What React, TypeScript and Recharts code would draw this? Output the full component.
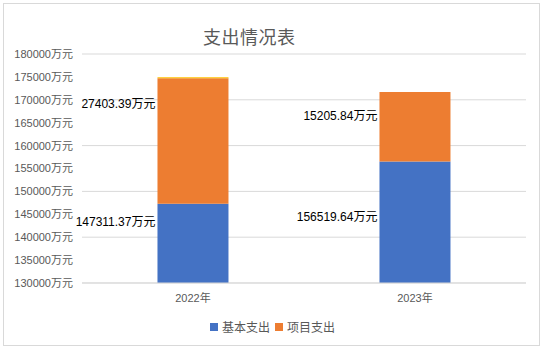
import { BarChart, Bar, XAxis, YAxis, CartesianGrid, LabelList } from "recharts";

const years = ["2022年", "2023年"];
const basic = [147311.37, 156519.64];
const project = [27403.39, 15205.84];
const other = [230, 0];
const yTicks = [130000, 135000, 140000, 145000, 150000, 155000, 160000, 165000, 170000, 175000, 180000];

const data = years.map((y, i) => ({ year: y, basic: basic[i], project: project[i], other: other[i] }));

const font = "'Liberation Sans', 'Noto Sans CJK SC', sans-serif";
const gray = "#595959";
const BLUE = "#4472C4";
const ORANGE = "#ED7D31";

// hand-placed label offsets (px below the segment top), like the dragged Excel labels
const basicDy = [18, 55];
const projectDy = [26, 24];

const makeLabel = (dys: number[]) => (props: any) => {
  const { x, y, index, value } = props;
  return (
    <text x={x - 2} y={y + dys[index]} textAnchor="end" dominantBaseline="central" fontSize={12} fill="#000" fontFamily={font}>
      {`${value}万元`}
    </text>
  );
};

const legendItems = [
  { name: "基本支出", color: BLUE },
  { name: "项目支出", color: ORANGE },
];

function LegendBox() {
  return (
    <div style={{ position: "absolute", left: 0, top: 318, width: 545, display: "flex", justifyContent: "center", gap: 5, fontFamily: font, fontSize: 12, color: gray }}>
      {legendItems.map((it) => (
        <div key={it.name} style={{ display: "flex", alignItems: "center" }}>
          <span style={{ width: 8, height: 8, background: it.color, display: "inline-block", marginRight: 4 }} />
          {it.name}
        </div>
      ))}
    </div>
  );
}

export default function App() {
  return (
    <div style={{ position: "fixed", left: 0, top: 0, width: 545, height: 351, background: "#fff" }}>
      <div style={{ position: "absolute", left: 3, top: 3, width: 535, height: 341, border: "1px solid #d9d9d9" }} />
      <div style={{ position: "absolute", left: 203, top: 23, fontFamily: font, fontSize: 18, color: gray, letterSpacing: 0.5 }}>支出情况表</div>
      <BarChart width={545} height={351} data={data} margin={{ top: 54, right: 19, left: 0, bottom: 38 }} barCategoryGap="34%">
        <CartesianGrid vertical={false} stroke="#d9d9d9" />
        <XAxis dataKey="year" axisLine={{ stroke: "#d9d9d9" }} tickLine={false} tickSize={0} tickMargin={11}
          tick={{ fontSize: 11, fill: gray, fontFamily: font }} height={30} />
        <YAxis type="number" domain={[130000, 180000]} ticks={yTicks} allowDataOverflow width={82}
          axisLine={false} tickLine={false} tickSize={0} tickMargin={9}
          tickFormatter={(v: number) => `${v}万元`} tick={{ fontSize: 11, fill: gray, fontFamily: font }} />
        <Bar dataKey="basic" name="基本支出" stackId="a" fill={BLUE} isAnimationActive={false}>
          <LabelList dataKey="basic" content={makeLabel(basicDy)} />
        </Bar>
        <Bar dataKey="project" name="项目支出" stackId="a" fill={ORANGE} isAnimationActive={false}>
          <LabelList dataKey="project" content={makeLabel(projectDy)} />
        </Bar>
        <Bar dataKey="other" name="其他" stackId="a" fill="#FFC000" legendType="none" isAnimationActive={false} />
      </BarChart>
      <LegendBox />
    </div>
  );
}
